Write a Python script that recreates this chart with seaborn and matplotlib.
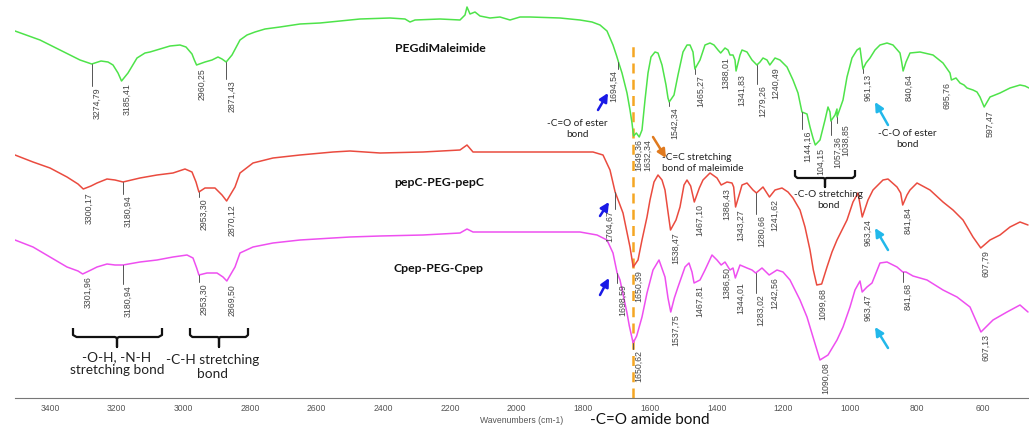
import numpy as np
import pandas as pd
import matplotlib
matplotlib.use("Agg")
import matplotlib.pyplot as plt
import seaborn as sns

# ---------------- data (wavenumber cm-1, transmittance a.u. incl. offset) ----------------
peg_wn = [3505, 3430, 3370, 3310, 3274.79, 3247, 3226, 3211, 3196, 3185.41, 3166, 3139, 3115, 3100, 3070, 3040,
          3010, 2992, 2974, 2967, 2960.25, 2935, 2914, 2896, 2884, 2871.43, 2854, 2830, 2809, 2785, 2755, 2710,
          2650, 2590, 2530, 2470, 2380, 2335, 2320, 2305, 2230, 2170, 2155, 2149, 2140, 2125, 2110, 2080, 2050,
          2020, 1990, 1960, 1870, 1810, 1774, 1750, 1729, 1711, 1700, 1694.54, 1684, 1669, 1660, 1654, 1649.36,
          1641, 1632.34, 1624, 1615, 1606, 1597, 1585, 1576, 1564, 1552, 1546, 1542.34, 1528, 1516, 1501, 1489,
          1480, 1471, 1465.27, 1450, 1435, 1420, 1408, 1396, 1388.01, 1375, 1366, 1360, 1351, 1345, 1341.83,
          1330, 1324, 1309, 1294, 1279.26, 1270, 1261, 1249, 1240.49, 1225, 1210, 1189, 1171, 1156, 1144.16,
          1129, 1120, 1111, 1104.15, 1090, 1075, 1066, 1060, 1057.36, 1045, 1039, 1038.85, 1021, 1009, 994,
          979, 970, 966, 961.13, 952, 940, 925, 910, 889, 871, 850, 845, 840.64, 832, 820, 790, 751, 721, 700,
          695.76, 682, 670, 658, 649, 631, 619, 610, 597.47, 580, 550, 520, 490, 475, 463]
peg_t = [367, 358, 348, 338, 334, 337, 336, 333, 325, 317, 325, 340, 345, 346, 349, 352,
         353, 351, 344, 338, 333, 336, 338, 341, 339, 336, 343, 358, 363, 366, 369, 371,
         374, 375, 377, 379, 380, 379, 376, 378, 379, 378, 383, 391, 384, 386, 382, 380, 381,
         378, 381, 381, 380, 378, 376, 373, 367, 353, 342, 336, 325, 305, 288, 275, 262,
         265, 261, 268, 298, 325, 341, 346, 345, 333, 313, 300, 296, 303, 323, 346, 353,
         353, 346, 329, 338, 353, 355, 353, 348, 345, 350, 348, 343, 343, 338, 327,
         343, 348, 346, 338, 333, 336, 340, 338, 333, 340, 338, 331, 318, 305, 286,
         284, 271, 260, 253, 258, 278, 291, 286, 277, 283, 289, 281, 298, 321, 340,
         348, 350, 340, 329, 335, 340, 348, 353, 355, 353, 345, 336, 327, 336, 345, 346, 343, 335, 325,
         318, 320, 315, 313, 310, 308, 306, 301, 291, 301, 305, 310, 313, 312, 310]

pep_wn = [3505, 3451, 3400, 3349, 3316, 3300.17, 3277, 3259, 3229, 3205, 3180.94, 3130, 3079, 3031, 2995, 2974,
          2962, 2953.30, 2935, 2905, 2884, 2870.12, 2845, 2830, 2791, 2731, 2650, 2551, 2500, 2410, 2281, 2170,
          2149, 2131, 1930, 1771, 1741, 1720, 1704.67, 1681, 1660, 1650.39, 1636, 1624, 1609, 1600, 1588, 1576,
          1564, 1555, 1546, 1538.47, 1522, 1510, 1498, 1489, 1478, 1467.10, 1452, 1441, 1420, 1399, 1386.43,
          1369, 1354, 1349, 1343.27, 1330, 1324, 1309, 1291, 1280.66, 1261, 1241.62, 1225, 1204, 1186, 1171,
          1150, 1135, 1120, 1110, 1099.68, 1085, 1069, 1054, 1039, 1009, 991, 976, 963.24, 946, 931, 901, 886,
          859, 848, 841.84, 829, 820, 799, 760, 721, 691, 661, 631, 607.79, 580, 550, 520, 490, 466]
pep_t = [243, 236, 230, 221, 214, 209, 212, 215, 219, 218, 216, 220, 223, 225, 229, 226,
         216, 206, 210, 210, 203, 197, 211, 225, 235, 240, 243, 246, 247, 245, 246, 248,
         253, 246, 246, 246, 243, 228, 206, 185, 151, 131, 138, 158, 181, 198, 216, 223,
         218, 208, 186, 168, 178, 191, 213, 218, 212, 196, 210, 218, 225, 220, 213,
         216, 215, 211, 191, 206, 213, 215, 208, 205, 211, 201, 208, 210, 206, 200,
         188, 171, 148, 128, 113, 114, 131, 146, 158, 178, 196, 205, 181, 198, 208, 218, 219,
         211, 205, 193, 203, 208, 215, 208, 196, 188, 178, 161, 150, 158, 163, 171, 176, 173]

cpep_wn = [3505, 3451, 3400, 3349, 3316, 3301.96, 3277, 3259, 3229, 3205, 3180.94, 3130, 3079, 3031, 2989, 2971,
           2960, 2953.30, 2929, 2899, 2881, 2869.50, 2845, 2830, 2791, 2731, 2650, 2551, 2500, 2410, 2281, 2170,
           2149, 2131, 1930, 1810, 1759, 1729, 1711, 1698.59, 1690, 1669, 1662, 1650.62, 1640, 1624, 1609, 1591,
           1573, 1555, 1546, 1537.75, 1527, 1516, 1495, 1483, 1474, 1467.81, 1450, 1435, 1414, 1399, 1386.50,
           1375, 1360, 1351, 1344.01, 1330, 1309, 1294, 1283.02, 1264, 1242.56, 1219, 1201, 1180, 1150, 1129,
           1111, 1090.08, 1066, 1039, 1021, 1000, 985, 970, 963.47, 949, 934, 910, 889, 859, 841.68, 832, 811,
           769, 721, 679, 640, 607.13, 571, 529, 490, 466]
cpep_t = [158, 151, 141, 131, 127, 124, 128, 131, 134, 133, 133, 136, 138, 141, 143, 140,
          130, 123, 125, 125, 121, 117, 131, 145, 151, 155, 158, 160, 161, 162, 163, 165,
          169, 166, 166, 166, 163, 158, 145, 125, 118, 85, 72, 55, 62, 81, 105, 128,
          138, 121, 100, 86, 100, 111, 131, 135, 126, 115, 118, 128, 143, 138, 133,
          136, 128, 130, 120, 133, 130, 128, 125, 130, 123, 128, 126, 118, 98, 81,
          61, 38, 43, 58, 71, 91, 108, 117, 106, 111, 115, 135, 136, 131, 126, 126, 122,
          118, 108, 101, 91, 66, 78, 86, 93, 86]

series_names = ["PEGdiMaleimide", "pepC-PEG-pepC", "Cpep-PEG-Cpep"]

peg_peaks = [3274.79, 3185.41, 2960.25, 2871.43, 1694.54, 1649.36, 1632.34, 1542.34, 1465.27, 1388.01,
             1341.83, 1279.26, 1240.49, 1144.16, 1104.15, 1057.36, 1038.85, 961.13, 840.64, 695.76, 597.47]
peg_peak_text = ["3274,79", "3185,41", "2960,25", "2871,43", "1694,54", "1649,36", "1632,34", "1542,34",
                 "1465,27", "1388,01", "1341,83", "1279,26", "1240,49", "1144,16", "104,15", "1057,36",
                 "1038,85", "961,13", "840,64", "695,76", "597,47"]
pep_peaks = [3300.17, 3180.94, 2953.30, 2870.12, 1704.67, 1650.39, 1538.47, 1467.10, 1386.43, 1343.27,
             1280.66, 1241.62, 1099.68, 963.24, 841.84, 607.79]
cpep_peaks = [3301.96, 3180.94, 2953.30, 2869.50, 1698.59, 1650.62, 1537.75, 1467.81, 1386.50, 1344.01,
              1283.02, 1242.56, 1090.08, 963.47, 841.68, 607.13]

# ---------------- layout (label drop below curve in px, side of text, extra x shift in pt) ----------------
peg_drop = [23, 2, 3, 18, 8, 3, 2, 5, 6, 4, 3, 20, 2, 18, 3, 15, 7, 5, 3, 2, 3]
peg_side = ["r"] * 21
peg_side[4] = "l"; peg_side[19] = "l"
peg_dx = [0] * 21
peg_dx[6] = 2.2; peg_dx[15] = 1.0; peg_dx[16] = 2.4
pep_drop = [3, 13, 6, 3, 18, 3, 2, 2, 3, 2, 22, 2, 3, 2, 2, 2]
pep_side = ["r"] * 16
pep_side[4] = "l"
cpep_drop = [2, 20, 8, 3, 11, 7, 2, 2, 2, 4, 21, 2, 2, 2, 11, 2]
cpep_side = ["r"] * 16

GREEN = "#4ee34a"
RED = "#ea4b3f"
MAG = "#ee4ff0"
LABEL_C = "#444444"

sns.set_style("white")
plt.rcParams["font.family"] = ["Liberation Sans", "DejaVu Sans"]

fig = plt.figure(figsize=(10.29, 4.28), dpi=100)
ax = fig.add_axes([15 / 1029, 30 / 428, 1014 / 1029, 398 / 428])
ax.set_xlim(3505, 463)
ax.set_ylim(0, 398)

for wn, t, c in [(peg_wn, peg_t, GREEN), (pep_wn, pep_t, RED), (cpep_wn, cpep_t, MAG)]:
    df = pd.DataFrame({"wn": wn, "t": t})
    sns.lineplot(data=df, x="wn", y="t", sort=False, estimator=None, color=c, linewidth=1.1, ax=ax)

# orange dashed reference line
ax.plot([1650, 1650], [0, 355], color="#f5a623", lw=1.8, ls=(0, (4, 2.5)), zorder=1)


def peak_labels(wn, t, peaks, texts, drops, sides, dxs=None):
    xs = np.array(wn)[::-1]
    ys = np.array(t)[::-1]
    if dxs is None:
        dxs = [0] * len(peaks)
    for p, s, d, sd, dx in zip(peaks, texts, drops, sides, dxs):
        yc = float(np.interp(p, xs, ys))
        ytop = yc - d
        if d > 4:
            ax.plot([p, p], [yc, ytop + 1], color="#555555", lw=0.7)
        if sd == "r":
            ax.annotate(s, xy=(p, ytop), xytext=(0.6 + dx, 0), textcoords="offset points", rotation=90,
                        ha="left", va="top", fontsize=6.3, color=LABEL_C)
        else:
            ax.annotate(s, xy=(p, ytop), xytext=(-0.4 + dx, 0), textcoords="offset points", rotation=90,
                        ha="right", va="top", fontsize=6.3, color=LABEL_C)


peak_labels(peg_wn, peg_t, peg_peaks, peg_peak_text, peg_drop, peg_side, peg_dx)
peak_labels(pep_wn, pep_t, pep_peaks, [f"{v:.2f}".replace(".", ",") for v in pep_peaks], pep_drop, pep_side)
peak_labels(cpep_wn, cpep_t, cpep_peaks, [f"{v:.2f}".replace(".", ",") for v in cpep_peaks], cpep_drop, cpep_side)

# series names
for name, (x, y) in zip(series_names, [(2230, 349), (2233, 216), (2236, 130)]):
    ax.text(x, y, name, ha="center", va="center", fontsize=8.8, fontweight="bold", color="#111111",
            family=["Lato", "DejaVu Sans"])

# arrows
def arrow(x0, y0, x1, y1, c):
    ax.annotate("", xy=(x1, y1), xytext=(x0, y0),
                arrowprops=dict(arrowstyle="-|>,head_length=0.5,head_width=0.25", color=c, lw=1.8,
                                shrinkA=0, shrinkB=0))

for (x0, y0, x1, y1) in [(1756, 288, 1726, 305), (1750, 182, 1723, 196), (1750, 103, 1723, 120)]:
    arrow(x0, y0, x1, y1, "#1a1ae6")
arrow(1591, 261, 1552, 240, "#e07a1e")
for (x0, y0, x1, y1) in [(886, 273, 925, 296), (886, 148, 925, 170), (886, 50, 925, 71)]:
    arrow(x0, y0, x1, y1, "#22b8ea")

# annotation texts
ann_font = ["Lato", "DejaVu Sans"]
ax.text(1819, 269, "-C=O of ester\nbond", ha="center", va="center", fontsize=7.2, family=ann_font,
        linespacing=1.3, color="#222222")
ax.text(1564, 235, "-C=C stretching\nbond of maleimide", ha="left", va="center", fontsize=7.2,
        family=ann_font, linespacing=1.15, color="#222222")
ax.text(1066, 198, "-C-O stretching\nbond", ha="center", va="center", fontsize=7.2, family=ann_font,
        linespacing=1.15, color="#222222")
ax.text(829, 259, "-C-O of ester\nbond", ha="center", va="center", fontsize=7.2, family=ann_font,
        linespacing=1.3, color="#222222")
ax.text(3199, 34, "-O-H, -N-H\nstretching bond", ha="center", va="center", fontsize=9.8, family=ann_font,
        linespacing=1.1, color="#222222")
ax.text(2911, 31, "-C-H stretching\nbond", ha="center", va="center", fontsize=9.8, family=ann_font,
        linespacing=1.1, color="#222222")
ax.text(1600, -21.5, "-C=O amide bond", ha="center", va="center", fontsize=11, family=ann_font,
        color="#111111", clip_on=False)


def brace(x0, x1, xm, ytop, ybot, ystem):
    r = (x0 - x1) * 0.04
    ax.plot([x0, x0, x0 - r, xm + r * 0.6, xm, xm, xm, xm - r * 0.6, x1 + r, x1, x1],
            [ytop, ybot + 2, ybot, ybot, ybot - 1, ystem, ybot - 1, ybot, ybot, ybot + 2, ytop],
            color="#111111", lw=1.6, solid_capstyle="butt", clip_on=False)


brace(3331, 3064, 3199, 70, 61, 51)
brace(2980, 2806, 2893, 70, 61, 51)
brace(1165, 985, 1075, 228, 220, 211)

# axis styling
for s in ["top", "right", "left"]:
    ax.spines[s].set_visible(False)
ax.spines["bottom"].set_color("#777777")
ax.spines["bottom"].set_linewidth(0.8)
ax.set_xticks(np.arange(3400, 500, -200))
ax.set_xticks(np.arange(3500, 450, -50), minor=True)
ax.tick_params(axis="x", which="major", direction="inout", length=3, width=0.6, colors="#777777",
               labelsize=6.2, labelcolor="#555555", pad=3)
ax.tick_params(axis="x", which="minor", direction="inout", length=2, width=0.5, colors="#777777")
ax.set_yticks([])
ax.set_xlabel("Wavenumbers (cm-1)", fontsize=6.2, color="#555555", labelpad=2)
ax.set_ylabel("")

fig.savefig("out.png", dpi=100)
